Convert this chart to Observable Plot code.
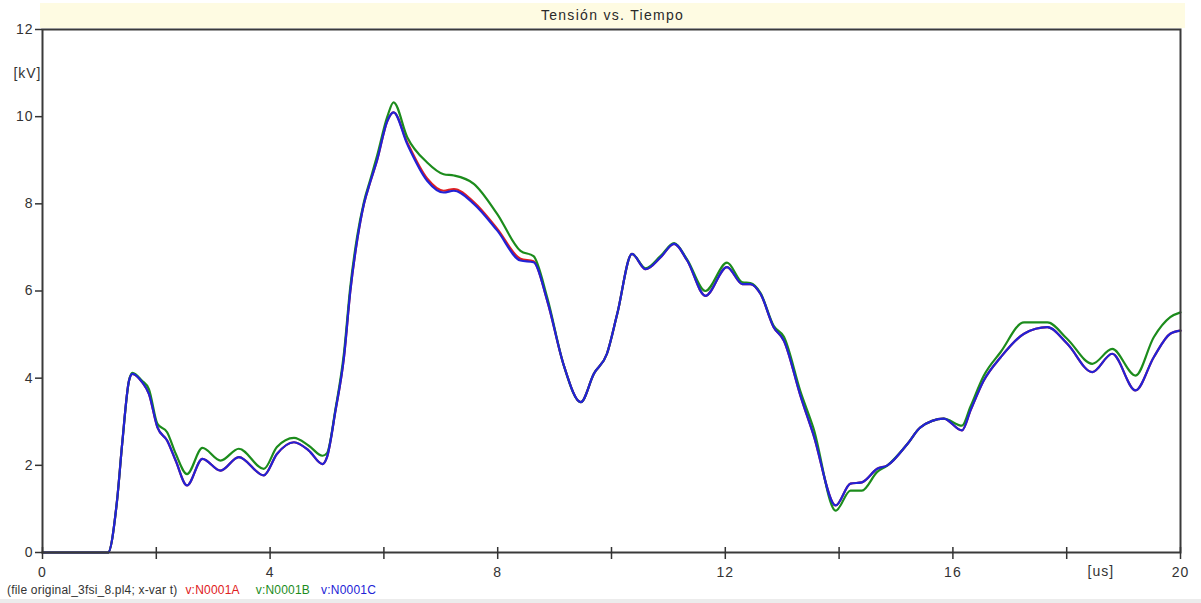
<!DOCTYPE html>
<html><head><meta charset="utf-8">
<script src="https://cdn.jsdelivr.net/npm/d3@7"></script>
<script src="https://cdn.jsdelivr.net/npm/@observablehq/plot@0.6"></script>
<style>
body{margin:0;background:#fff;}
#wrap{position:relative;width:1201px;height:603px;overflow:hidden;font-family:"Liberation Sans",Arial,sans-serif;}
#title{position:absolute;left:40px;top:3px;width:1145px;height:25px;background:#fefbe2;z-index:2;text-align:center;font-size:14px;line-height:25px;color:#2a2a2a;letter-spacing:1.3px;}
#caption{position:absolute;left:7px;top:583px;font-size:12px;line-height:14px;color:#333;white-space:nowrap;letter-spacing:0.2px;}
#bottombar{position:absolute;left:0;top:599px;width:1201px;height:4px;background:#ececec;}
#chart svg text{letter-spacing:1px;}
</style></head>
<body>
<div id="wrap">
  <div id="title"></div>
  <div id="chart"></div>
  <div id="caption"></div>
  <div id="bottombar"></div>
</div>
<script>
const chartTitle = "Tensión vs. Tiempo";
const fileNote = "(file original_3fsi_8.pl4; x-var t)";
const seriesNames = ["v:N0001A", "v:N0001B", "v:N0001C"];
const seriesColors = ["#e02020", "#1c8c1c", "#2222d6"];
const xTicks = [0, 2, 4, 6, 8, 10, 12, 14, 16, 18, 20];
const xLabelTicks = [0, 4, 8, 12, 16, 20];
const yTicks = [0, 2, 4, 6, 8, 10, 12];
const yUnit = {text: "[kV]", at: 11};
const xUnit = {text: "[us]", at: 18.6};

const time = [0, 1.15, 1.31, 1.40, 1.52, 1.58, 1.75, 1.87, 2.02, 2.19, 2.34, 2.54, 2.81, 3.13, 3.45, 3.89, 4.12, 4.42, 4.68, 4.92, 5.0, 5.15, 5.30, 5.41, 5.53, 5.65, 5.76, 5.88, 6.06, 6.17, 6.41, 6.76, 7.05, 7.23, 7.58, 7.99, 8.40, 8.63, 8.87, 9.16, 9.46, 9.69, 9.92, 10.1, 10.36, 10.6, 10.86, 11.1, 11.33, 11.65, 12.03, 12.3, 12.44, 12.62, 12.85, 13.03, 13.32, 13.55, 13.94, 14.2, 14.4, 14.67, 14.85, 15.2, 15.43, 15.84, 16.16, 16.31, 16.54, 16.84, 17.25, 17.66, 18.01, 18.45, 18.8, 19.21, 19.53, 19.82, 20.0];

const vA = [0, 0, 1.19, 2.49, 3.94, 4.1, 3.91, 3.64, 2.87, 2.57, 2.11, 1.54, 2.15, 1.88, 2.19, 1.77, 2.26, 2.53, 2.34, 2.03, 2.19, 3.26, 4.5, 6.0, 7.16, 8.0, 8.5, 9.0, 9.9, 10.1, 9.41, 8.58, 8.30, 8.34, 8.04, 7.43, 6.74, 6.68, 5.78, 4.3, 3.45, 4.1, 4.56, 5.47, 6.85, 6.5, 6.77, 7.08, 6.7, 5.89, 6.55, 6.16, 6.16, 5.93, 5.17, 4.86, 3.6, 2.7, 1.08, 1.58, 1.61, 1.92, 2.0, 2.49, 2.87, 3.07, 2.80, 3.26, 3.94, 4.48, 5.02, 5.17, 4.79, 4.14, 4.56, 3.72, 4.48, 5.02, 5.09];

const vB = [0, 0, 1.19, 2.49, 3.94, 4.12, 3.94, 3.75, 2.95, 2.76, 2.27, 1.80, 2.40, 2.11, 2.38, 1.92, 2.42, 2.63, 2.45, 2.22, 2.28, 3.3, 4.6, 6.1, 7.25, 8.05, 8.55, 9.1, 10.0, 10.33, 9.53, 8.95, 8.68, 8.65, 8.46, 7.77, 6.92, 6.8, 5.85, 4.3, 3.45, 4.1, 4.56, 5.47, 6.85, 6.52, 6.8, 7.1, 6.72, 6.0, 6.65, 6.2, 6.18, 5.95, 5.2, 4.95, 3.7, 2.85, 0.96, 1.42, 1.42, 1.85, 2.0, 2.49, 2.87, 3.07, 2.91, 3.35, 4.05, 4.6, 5.28, 5.28, 4.9, 4.33, 4.67, 4.06, 4.94, 5.40, 5.51];

const vC = [0, 0, 1.19, 2.49, 3.94, 4.1, 3.91, 3.64, 2.87, 2.57, 2.11, 1.54, 2.15, 1.88, 2.19, 1.77, 2.26, 2.53, 2.34, 2.03, 2.19, 3.26, 4.5, 6.0, 7.16, 8.0, 8.5, 9.0, 9.9, 10.1, 9.37, 8.53, 8.26, 8.30, 8.0, 7.39, 6.70, 6.66, 5.78, 4.3, 3.45, 4.1, 4.56, 5.47, 6.85, 6.5, 6.77, 7.08, 6.7, 5.89, 6.55, 6.16, 6.16, 5.93, 5.17, 4.86, 3.6, 2.7, 1.08, 1.58, 1.61, 1.92, 2.0, 2.49, 2.87, 3.07, 2.80, 3.26, 3.94, 4.48, 5.02, 5.17, 4.79, 4.14, 4.56, 3.72, 4.48, 5.02, 5.09];

const seriesValues = [vA, vB, vC];
const rows = [];
seriesNames.forEach((name, i) => {
  time.forEach((t, j) => rows.push({series: name, t, v: seriesValues[i][j]}));
});

document.getElementById("title").textContent = chartTitle;
const cap = document.getElementById("caption");
cap.appendChild(document.createTextNode(fileNote));
const capGaps = [8, 16, 11];
seriesNames.forEach((n, i) => {
  const s = document.createElement("span");
  s.textContent = n;
  s.style.color = seriesColors[i];
  s.style.marginLeft = capGaps[i] + "px";
  cap.appendChild(s);
});

const chart = Plot.plot({
  width: 1201,
  height: 603,
  marginLeft: 42,
  marginRight: 21,
  marginTop: 29,
  marginBottom: 51,
  style: {fontFamily: "'Liberation Sans', Arial, sans-serif", fontSize: "14px", color: "#333", background: "transparent"},
  x: {domain: [0, 20]},
  y: {domain: [0, 12]},
  color: {domain: seriesNames, range: seriesColors},
  marks: [
    Plot.line(rows, {x: "t", y: "v", z: "series", stroke: "series", strokeWidth: 2.2, curve: "monotone-x"}),
    Plot.frame({stroke: "#3a3a3a", strokeWidth: 2}),
    Plot.axisY({ticks: yTicks, tickSize: 7, tickPadding: 2, tickFormat: d => String(d), label: null, strokeWidth: 1.5}),
    Plot.axisX({ticks: xTicks, tickSize: 12, dy: -5, tickFormat: () => "", label: null, strokeWidth: 1.5}),
    Plot.axisX({ticks: xLabelTicks, tickSize: 0, tickPadding: 15, tickFormat: d => String(d), label: null}),
    Plot.text([yUnit], {x: () => 0, y: "at", text: "text", textAnchor: "end", dx: -1}),
    Plot.text([xUnit], {x: "at", y: () => 0, text: "text", lineAnchor: "top", dy: 14})
  ]
});
document.getElementById("chart").appendChild(chart);
</script>
</body></html>
